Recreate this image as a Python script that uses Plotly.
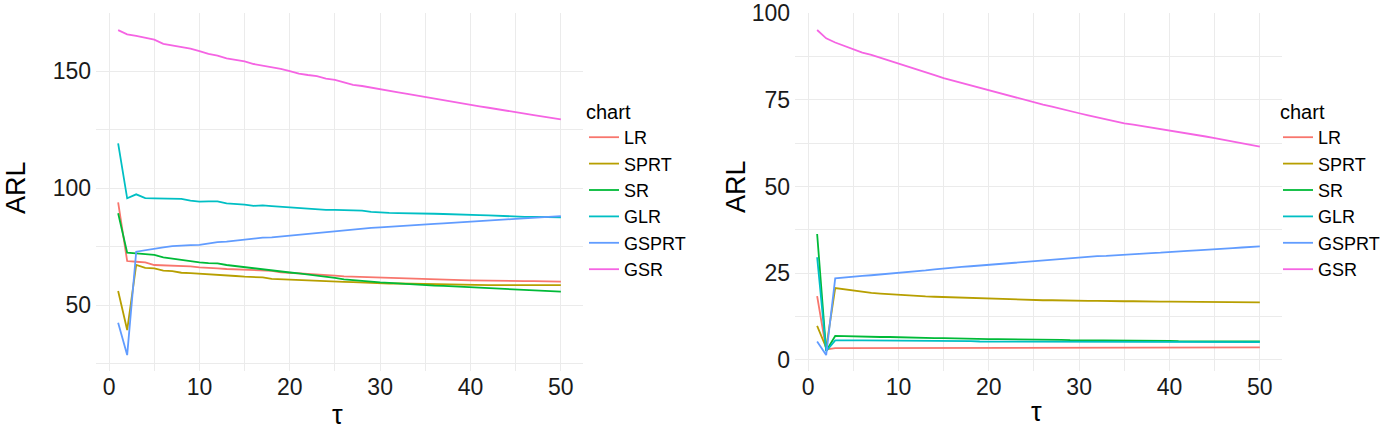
import plotly.graph_objects as go

# tau (change point) values, shared by both panels
tau = list(range(1, 51))

charts = ["LR", "SPRT", "SR", "GLR", "GSPRT", "GSR"]
colors = ["#F8766D", "#B79F00", "#00BA38", "#00BFC4", "#619CFF", "#F564E3"]

# left panel ARL values
lr_left = [93.9, 68.8, 68.5, 68.2, 67.1, 67.0, 66.8, 66.6, 66.5, 66.1,
           66.0, 65.7, 65.4, 65.3, 65.2, 65.1, 65.0, 64.6, 64.0, 63.8,
           63.6, 63.3, 63.1, 62.8, 62.6, 62.2, 62.1, 62.0, 61.9, 61.8,
           61.7, 61.6, 61.5, 61.3, 61.2, 61.0, 60.9, 60.8, 60.6, 60.5,
           60.4, 60.4, 60.3, 60.3, 60.3, 60.2, 60.2, 60.1, 60.1, 60.0]
sprt_left = [56.0, 39.3, 67.1, 65.9, 65.7, 64.7, 64.5, 63.8, 63.6, 63.3,
             63.0, 62.8, 62.6, 62.4, 62.1, 62.0, 61.8, 61.2, 61.0, 60.9,
             60.7, 60.5, 60.3, 60.1, 60.0, 59.9, 59.8, 59.6, 59.4, 59.3,
             59.2, 59.2, 59.1, 59.0, 59.0, 58.9, 58.8, 58.7, 58.6, 58.5,
             58.5, 58.5, 58.5, 58.5, 58.5, 58.5, 58.5, 58.5, 58.5, 58.5]
sr_left = [89.2, 72.4, 72.1, 71.8, 71.4, 70.4, 69.8, 69.2, 68.7, 68.2,
           67.9, 67.8, 67.1, 66.6, 66.1, 65.7, 65.3, 64.9, 64.3, 63.9,
           63.5, 63.1, 62.6, 62.1, 61.6, 61.0, 60.6, 60.3, 60.0, 59.7,
           59.5, 59.2, 59.0, 58.8, 58.5, 58.3, 58.2, 58.0, 57.8, 57.6,
           57.4, 57.2, 57.1, 56.9, 56.7, 56.5, 56.3, 56.1, 55.9, 55.7]
glr_left = [119.1, 95.6, 97.3, 95.7, 95.6, 95.5, 95.2, 95.4, 94.6, 94.2,
            94.3, 94.3, 93.4, 93.2, 92.9, 92.4, 92.6, 92.3, 92.0, 91.7,
            91.6, 91.3, 91.1, 90.7, 90.7, 90.6, 90.5, 90.3, 89.8, 89.5,
            89.4, 89.3, 89.3, 89.2, 89.1, 89.0, 88.9, 88.7, 88.6, 88.5,
            88.4, 88.3, 88.1, 88.0, 87.8, 87.7, 87.7, 87.6, 87.6, 87.5]
gsprt_left = [42.4, 28.6, 72.8, 73.5, 73.9, 74.6, 75.2, 75.5, 75.6, 75.7,
              76.4, 76.9, 77.1, 77.6, 77.8, 78.5, 78.8, 78.9, 79.3, 79.6,
              79.9, 80.3, 80.8, 81.3, 81.5, 81.8, 82.3, 82.8, 83.0, 83.2,
              83.5, 83.7, 84.0, 84.3, 84.5, 84.7, 84.9, 85.1, 85.4, 85.6,
              85.8, 86.1, 86.3, 86.6, 86.8, 87.0, 87.3, 87.5, 87.8, 88.0]
gsr_left = [167.5, 165.7, 165.0, 164.2, 163.4, 161.6, 161.0, 160.3, 159.6, 158.5,
            157.3, 156.6, 155.4, 154.8, 154.1, 153.0, 152.4, 151.8, 150.9, 150.0,
            148.9, 148.3, 147.8, 146.8, 146.2, 145.2, 144.1, 143.6, 143.0, 142.2,
            141.6, 140.9, 140.2, 139.5, 138.8, 138.1, 137.5, 136.8, 136.2, 135.5,
            134.9, 134.3, 133.6, 133.0, 132.4, 131.8, 131.2, 130.6, 130.0, 129.3]

# right panel ARL values
lr_right = [18.4, 3.0, 3.4, 3.4, 3.5, 3.5, 3.5, 3.5, 3.5, 3.5,
            3.5, 3.5, 3.5, 3.5, 3.5, 3.5, 3.5, 3.5, 3.6, 3.6,
            3.6, 3.5, 3.5, 3.6, 3.6, 3.5, 3.6, 3.6, 3.6, 3.6,
            3.5, 3.6, 3.6, 3.6, 3.6, 3.6, 3.6, 3.6, 3.6, 3.6,
            3.6, 3.6, 3.6, 3.6, 3.6, 3.6, 3.6, 3.6, 3.6, 3.6]
sprt_right = [9.8, 3.5, 20.7, 20.3, 19.9, 19.6, 19.3, 19.1, 18.9, 18.7,
              18.6, 18.5, 18.3, 18.2, 18.1, 18.0, 17.9, 17.8, 17.7, 17.6,
              17.5, 17.5, 17.4, 17.3, 17.3, 17.2, 17.2, 17.1, 17.1, 17.0,
              17.0, 17.0, 16.9, 16.9, 16.9, 16.9, 16.8, 16.8, 16.8, 16.8,
              16.8, 16.7, 16.7, 16.7, 16.7, 16.6, 16.6, 16.6, 16.6, 16.6]
sr_right = [36.3, 2.6, 6.9, 6.8, 6.8, 6.7, 6.7, 6.6, 6.6, 6.5,
            6.5, 6.4, 6.4, 6.3, 6.3, 6.2, 6.2, 6.1, 6.1, 6.0,
            6.0, 6.0, 5.9, 5.9, 5.9, 5.8, 5.8, 5.8, 5.7, 5.7,
            5.7, 5.6, 5.6, 5.6, 5.6, 5.5, 5.5, 5.5, 5.5, 5.5,
            5.4, 5.4, 5.4, 5.4, 5.4, 5.3, 5.3, 5.3, 5.3, 5.3]
glr_right = [29.6, 2.5, 5.6, 5.7, 5.6, 5.6, 5.6, 5.6, 5.5, 5.5,
             5.5, 5.5, 5.5, 5.4, 5.4, 5.4, 5.4, 5.4, 5.3, 5.3,
             5.3, 5.3, 5.3, 5.3, 5.3, 5.3, 5.2, 5.2, 5.2, 5.2,
             5.2, 5.2, 5.2, 5.2, 5.2, 5.2, 5.2, 5.2, 5.2, 5.2,
             5.1, 5.1, 5.1, 5.1, 5.1, 5.1, 5.1, 5.1, 5.1, 5.1]
gsprt_right = [5.3, 1.4, 23.5, 23.8, 24.0, 24.2, 24.4, 24.6, 24.8, 25.0,
               25.3, 25.5, 25.8, 26.1, 26.4, 26.6, 26.8, 27.0, 27.2, 27.4,
               27.6, 27.9, 28.1, 28.4, 28.6, 28.8, 29.0, 29.2, 29.4, 29.5,
               29.7, 29.9, 30.0, 30.2, 30.3, 30.5, 30.6, 30.8, 30.9, 31.0,
               31.2, 31.4, 31.6, 31.7, 31.9, 32.1, 32.2, 32.4, 32.6, 32.7]
gsr_right = [95.1, 92.7, 91.5, 90.5, 89.5, 88.6, 87.9, 87.1, 86.3, 85.5,
             84.6, 83.8, 83.0, 82.1, 81.2, 80.5, 79.7, 79.0, 78.3, 77.6,
             76.9, 76.3, 75.6, 74.9, 74.3, 73.6, 73.0, 72.3, 71.7, 71.1,
             70.5, 69.9, 69.3, 68.7, 68.2, 67.8, 67.4, 67.0, 66.5, 66.1,
             65.7, 65.2, 64.8, 64.4, 63.9, 63.4, 62.9, 62.5, 62.0, 61.5]

left_series = [lr_left, sprt_left, sr_left, glr_left, gsprt_left, gsr_left]
right_series = [lr_right, sprt_right, sr_right, glr_right, gsprt_right, gsr_right]

W, H = 1381, 437
FONT = "Liberation Sans, Arial, sans-serif"


def px(p):
    # pixel x -> paper x
    return p / W


def py(p):
    # pixel y -> paper y (plot area spans y 13..371)
    return (371 - p) / 358


fig = go.Figure()

for name, col, ys in zip(charts, colors, left_series):
    fig.add_trace(go.Scatter(x=tau, y=ys, mode="lines", name=name,
                             line=dict(color=col, width=1.8),
                             xaxis="x", yaxis="y", legend="legend"))
for name, col, ys in zip(charts, colors, right_series):
    fig.add_trace(go.Scatter(x=tau, y=ys, mode="lines", name=name,
                             line=dict(color=col, width=1.8),
                             xaxis="x2", yaxis="y2", legend="legend2"))

grid = "#EBEBEB"
xcommon = dict(range=[-1.45, 52.45], tickvals=[0, 10, 20, 30, 40, 50],
               showgrid=True, gridcolor=grid, gridwidth=1.2, zeroline=False,
               showline=False, ticks="", tickfont=dict(size=23, color="#1A1A1A"),
               minor=dict(tickvals=[5, 15, 25, 35, 45], showgrid=True,
                          gridcolor=grid, gridwidth=1.2),
               ticklabelstandoff=0, automargin=False)
ycommon = dict(showgrid=True, gridcolor=grid, gridwidth=1.2, zeroline=False,
               showline=False, ticks="", tickfont=dict(size=23, color="#1A1A1A"),
               ticklabelstandoff=4, automargin=False, ticklabeloverflow="allow")

legend_common = dict(title=dict(text="chart", font=dict(size=20)), font=dict(size=18),
                     xanchor="left", y=py(93), yanchor="top",
                     bgcolor="rgba(0,0,0,0)", tracegroupgap=0)

fig.update_layout(
    width=W, height=H,
    margin=dict(l=0, r=0, t=13, b=66, autoexpand=False),
    paper_bgcolor="white", plot_bgcolor="white",
    font=dict(family=FONT, color="black"),
    xaxis=dict(domain=[px(96), px(583)], anchor="y", **xcommon),
    xaxis2=dict(domain=[px(795), px(1282)], anchor="y2", **xcommon),
    yaxis=dict(range=[21.8, 174.8], tickvals=[50, 100, 150], anchor="x",
               minor=dict(tickvals=[25, 75, 125, 175], showgrid=True,
                          gridcolor=grid, gridwidth=1.2),
               **ycommon),
    yaxis2=dict(range=[-3.2, 100.0], tickvals=[0, 25, 50, 75, 100], anchor="x2",
                minor=dict(tickvals=[12.5, 37.5, 62.5, 87.5], showgrid=True,
                           gridcolor=grid, gridwidth=1.2),
                **ycommon),
    legend=dict(x=px(584), **legend_common),
    legend2=dict(x=px(1278), **legend_common),
    showlegend=True,
)

# axis titles
for xc, yc in [(16, 187), (736, 187)]:
    fig.add_annotation(text="ARL", x=px(xc), y=py(yc), xref="paper", yref="paper",
                       xanchor="center", yanchor="middle",
                       textangle=-90, showarrow=False, font=dict(size=27))
for xc, yc in [(337, 415), (1036, 412)]:
    fig.add_annotation(text="τ", x=px(xc), y=py(yc), xref="paper", yref="paper",
                       xanchor="center", yanchor="middle",
                       showarrow=False, font=dict(size=27))

# the page's default 8px body margin would push the figure off the window
fig.write_html("out.html", config={"displayModeBar": False},
               post_script="document.body.style.margin = '0px';")
